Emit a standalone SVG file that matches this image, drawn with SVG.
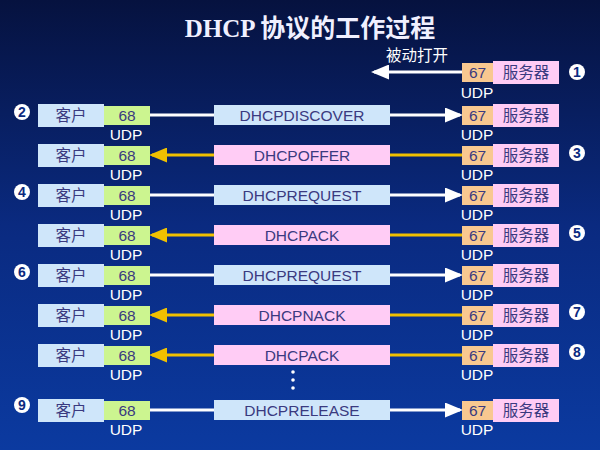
<svg xmlns="http://www.w3.org/2000/svg" width="600" height="450" viewBox="0 0 600 450">
<defs>
<linearGradient id="bg" x1="0" y1="0" x2="0" y2="1"><stop offset="0" stop-color="#06123f"/><stop offset="0.5" stop-color="#0a2a80"/><stop offset="1" stop-color="#0b3aa0"/></linearGradient>
<marker id="aw" markerWidth="6" markerHeight="5" refX="5" refY="2.5" orient="auto" markerUnits="strokeWidth"><path d="M0,0 L6,2.5 L0,5 Z" fill="#fff"/></marker>
<marker id="ay" markerWidth="6" markerHeight="5" refX="5" refY="2.5" orient="auto" markerUnits="strokeWidth"><path d="M0,0 L6,2.5 L0,5 Z" fill="#f0c000"/></marker>
<style>
text{font-family:"Liberation Sans","Noto Sans CJK SC",sans-serif}
text.title{font-family:"Liberation Serif","Noto Sans CJK SC",serif;font-size:25px;font-weight:bold;fill:#f0f0ff;text-anchor:middle}
.cl{fill:#cfe6fa}.p68{fill:#ccf590}.p67{fill:#f8c890}.sv{fill:#ffccf5}.mb{fill:#cfe6fa}.mp{fill:#ffccf5}
.t{font-size:15.5px;fill:#3a3a80;text-anchor:middle}
.u{font-size:15.5px;fill:#fff;text-anchor:middle}
.w{stroke:#fff;stroke-width:3;fill:none}
.y{stroke:#f0c000;stroke-width:3;fill:none}
.n{font-size:14px;font-weight:bold;fill:#0a2a80;text-anchor:middle}
</style>
</defs>
<rect width="600" height="450" fill="url(#bg)"/>
<text x="310" y="37" class="title">DHCP 协议的工作过程</text>
<text x="417" y="61" class="u" font-size="14">被动打开</text>
<g id="connectors">
<line class="w" x1="462" y1="72" x2="374" y2="72" marker-end="url(#aw)"/>
<line class="w" x1="150" y1="115" x2="214" y2="115"/><line class="w" x1="390" y1="115" x2="460" y2="115" marker-end="url(#aw)"/>
<line class="y" x1="462" y1="155" x2="390" y2="155"/><line class="y" x1="214" y1="155" x2="152" y2="155" marker-end="url(#ay)"/>
<line class="w" x1="150" y1="195" x2="214" y2="195"/><line class="w" x1="390" y1="195" x2="460" y2="195" marker-end="url(#aw)"/>
<line class="y" x1="462" y1="235" x2="390" y2="235"/><line class="y" x1="214" y1="235" x2="152" y2="235" marker-end="url(#ay)"/>
<line class="w" x1="150" y1="275" x2="214" y2="275"/><line class="w" x1="390" y1="275" x2="460" y2="275" marker-end="url(#aw)"/>
<line class="y" x1="462" y1="315" x2="390" y2="315"/><line class="y" x1="214" y1="315" x2="152" y2="315" marker-end="url(#ay)"/>
<line class="y" x1="462" y1="355" x2="390" y2="355"/><line class="y" x1="214" y1="355" x2="152" y2="355" marker-end="url(#ay)"/>
<line class="w" x1="150" y1="410" x2="214" y2="410"/><line class="w" x1="390" y1="410" x2="460" y2="410" marker-end="url(#aw)"/>
</g>
<g fill="#fff"><circle cx="293" cy="372" r="1.8"/><circle cx="293" cy="380" r="1.8"/><circle cx="293" cy="388" r="1.8"/></g>
<g id="server1"><rect class="p67" x="462" y="63" width="31" height="19"/><rect class="sv" x="493" y="61" width="66" height="23"/><text class="t" x="477.5" y="78">67</text><text class="t" x="526" y="78">服务器</text><text class="u" x="477" y="98">UDP</text><circle cx="577" cy="72" r="8" fill="#fff"/><text class="n" x="577" y="77">1</text></g>
<g id="rows">
<g id="r2"><rect class="cl" x="38" y="104" width="66" height="23"/><rect class="p68" x="104" y="106" width="46" height="19"/><text class="t" x="71" y="121">客户</text><text class="t" x="127" y="121">68</text><text class="u" x="126" y="140">UDP</text>
<rect class="mb" x="214" y="105" width="176" height="20"/><text class="t" x="302" y="121">DHCPDISCOVER</text>
<rect class="p67" x="462" y="106" width="31" height="19"/><rect class="sv" x="493" y="104" width="66" height="23"/><text class="t" x="477.5" y="121">67</text><text class="t" x="526" y="121">服务器</text><text class="u" x="477" y="140">UDP</text>
<circle cx="22" cy="112" r="8" fill="#fff"/><text class="n" x="22" y="117">2</text></g>
<g id="r3"><rect class="cl" x="38" y="144" width="66" height="23"/><rect class="p68" x="104" y="146" width="46" height="19"/><text class="t" x="71" y="161">客户</text><text class="t" x="127" y="161">68</text><text class="u" x="126" y="180">UDP</text>
<rect class="mp" x="214" y="145" width="176" height="20"/><text class="t" x="302" y="161">DHCPOFFER</text>
<rect class="p67" x="462" y="146" width="31" height="19"/><rect class="sv" x="493" y="144" width="66" height="23"/><text class="t" x="477.5" y="161">67</text><text class="t" x="526" y="161">服务器</text><text class="u" x="477" y="180">UDP</text>
<circle cx="577" cy="153" r="8" fill="#fff"/><text class="n" x="577" y="158">3</text></g>
<g id="r4"><rect class="cl" x="38" y="184" width="66" height="23"/><rect class="p68" x="104" y="186" width="46" height="19"/><text class="t" x="71" y="201">客户</text><text class="t" x="127" y="201">68</text><text class="u" x="126" y="220">UDP</text>
<rect class="mb" x="214" y="185" width="176" height="20"/><text class="t" x="302" y="201">DHCPREQUEST</text>
<rect class="p67" x="462" y="186" width="31" height="19"/><rect class="sv" x="493" y="184" width="66" height="23"/><text class="t" x="477.5" y="201">67</text><text class="t" x="526" y="201">服务器</text><text class="u" x="477" y="220">UDP</text>
<circle cx="22" cy="192" r="8" fill="#fff"/><text class="n" x="22" y="197">4</text></g>
<g id="r5"><rect class="cl" x="38" y="224" width="66" height="23"/><rect class="p68" x="104" y="226" width="46" height="19"/><text class="t" x="71" y="241">客户</text><text class="t" x="127" y="241">68</text><text class="u" x="126" y="260">UDP</text>
<rect class="mp" x="214" y="225" width="176" height="20"/><text class="t" x="302" y="241">DHCPACK</text>
<rect class="p67" x="462" y="226" width="31" height="19"/><rect class="sv" x="493" y="224" width="66" height="23"/><text class="t" x="477.5" y="241">67</text><text class="t" x="526" y="241">服务器</text><text class="u" x="477" y="260">UDP</text>
<circle cx="577" cy="233" r="8" fill="#fff"/><text class="n" x="577" y="238">5</text></g>
<g id="r6"><rect class="cl" x="38" y="264" width="66" height="23"/><rect class="p68" x="104" y="266" width="46" height="19"/><text class="t" x="71" y="281">客户</text><text class="t" x="127" y="281">68</text><text class="u" x="126" y="300">UDP</text>
<rect class="mb" x="214" y="265" width="176" height="20"/><text class="t" x="302" y="281">DHCPREQUEST</text>
<rect class="p67" x="462" y="266" width="31" height="19"/><rect class="sv" x="493" y="264" width="66" height="23"/><text class="t" x="477.5" y="281">67</text><text class="t" x="526" y="281">服务器</text><text class="u" x="477" y="300">UDP</text>
<circle cx="22" cy="272" r="8" fill="#fff"/><text class="n" x="22" y="277">6</text></g>
<g id="r7"><rect class="cl" x="38" y="304" width="66" height="23"/><rect class="p68" x="104" y="306" width="46" height="19"/><text class="t" x="71" y="321">客户</text><text class="t" x="127" y="321">68</text><text class="u" x="126" y="340">UDP</text>
<rect class="mp" x="214" y="305" width="176" height="20"/><text class="t" x="302" y="321">DHCPNACK</text>
<rect class="p67" x="462" y="306" width="31" height="19"/><rect class="sv" x="493" y="304" width="66" height="23"/><text class="t" x="477.5" y="321">67</text><text class="t" x="526" y="321">服务器</text><text class="u" x="477" y="340">UDP</text>
<circle cx="577" cy="312" r="8" fill="#fff"/><text class="n" x="577" y="317">7</text></g>
<g id="r8"><rect class="cl" x="38" y="344" width="66" height="23"/><rect class="p68" x="104" y="346" width="46" height="19"/><text class="t" x="71" y="361">客户</text><text class="t" x="127" y="361">68</text><text class="u" x="126" y="380">UDP</text>
<rect class="mp" x="214" y="345" width="176" height="20"/><text class="t" x="302" y="361">DHCPACK</text>
<rect class="p67" x="462" y="346" width="31" height="19"/><rect class="sv" x="493" y="344" width="66" height="23"/><text class="t" x="477.5" y="361">67</text><text class="t" x="526" y="361">服务器</text><text class="u" x="477" y="380">UDP</text>
<circle cx="577" cy="352" r="8" fill="#fff"/><text class="n" x="577" y="357">8</text></g>
<g id="r9"><rect class="cl" x="38" y="399" width="66" height="23"/><rect class="p68" x="104" y="401" width="46" height="19"/><text class="t" x="71" y="416">客户</text><text class="t" x="127" y="416">68</text><text class="u" x="126" y="435">UDP</text>
<rect class="mb" x="214" y="400" width="176" height="20"/><text class="t" x="302" y="416">DHCPRELEASE</text>
<rect class="p67" x="462" y="401" width="31" height="19"/><rect class="sv" x="493" y="399" width="66" height="23"/><text class="t" x="477.5" y="416">67</text><text class="t" x="526" y="416">服务器</text><text class="u" x="477" y="435">UDP</text>
<circle cx="22" cy="405" r="8" fill="#fff"/><text class="n" x="22" y="410">9</text></g>
</g>
</svg>
